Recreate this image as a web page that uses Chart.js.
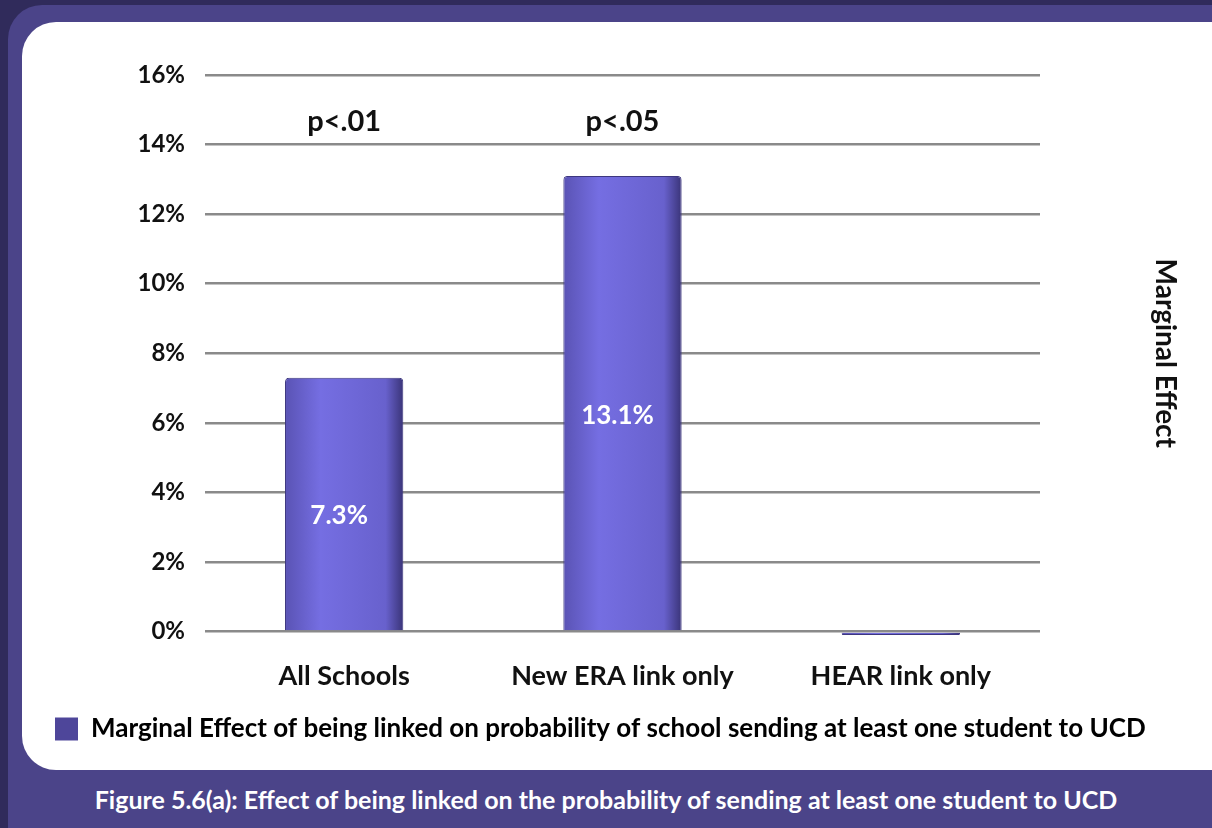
<!DOCTYPE html>
<html>
<head>
<meta charset="utf-8">
<script src="https://cdn.jsdelivr.net/npm/chart.js@4.4.1/dist/chart.umd.min.js"></script>
<style>
  html, body { margin: 0; padding: 0; }
  body { width: 1212px; height: 828px; background: #302b5b; position: relative; overflow: hidden; font-family: Lato, sans-serif; }
  #frame { position: absolute; left: 8px; top: 5px; width: 1260px; height: 860px; background: #4b4489; border-radius: 34px; }
  #panel { position: absolute; left: 22px; top: 22px; width: 1230px; height: 748px; background: #fff; border-radius: 34px; }
  #box { position: absolute; left: 22px; top: 22px; width: 1190px; height: 748px; }
  #caption { position: absolute; left: 0; width: 1212px; top: 784px; text-align: center; color: #fff; font: bold 25px Lato, sans-serif; }
</style>
</head>
<body>
<div id="frame"></div>
<div id="panel"></div>
<div id="box"><canvas id="barChart"></canvas></div>
<div id="caption">Figure 5.6(a): Effect of being linked on the probability of sending at least one student to UCD</div>
<script>
var categories = ['All Schools', 'New ERA link only', 'HEAR link only'];
var effects = [7.3, 13.1, -0.1];
var valueLabels = ['7.3%', '13.1%', ''];
var pLabels = ['p<.01', 'p<.05', ''];
var yTicks = [0, 2, 4, 6, 8, 10, 12, 14, 16];
var seriesName = 'Marginal Effect of being linked on probability of school sending at least one student to UCD';

var legendColour = '#4e469a';
var barPct = 0.425;

// white value labels inside the bars and the p-values above them
var barText = {
    id: 'barText',
    afterDatasetsDraw: function (chart) {
        var ctx = chart.ctx;
        var bars = chart.getDatasetMeta(0).data;
        var y = chart.scales.y;
        ctx.save();
        ctx.textAlign = 'center';
        ctx.textBaseline = 'middle';
        bars.forEach(function (bar, i) {
            if (valueLabels[i]) {
                ctx.fillStyle = '#ffffff';
                ctx.font = 'bold 26px Lato';
                ctx.fillText(valueLabels[i], bar.x - 5, (bar.y + bar.base) / 2 + 12);
            }
            if (pLabels[i]) {
                ctx.fillStyle = '#111111';
                ctx.font = 'bold 29px Lato';
                ctx.fillText(pLabels[i], bar.x, y.getPixelForValue(14.65));
            }
        });
        ctx.restore();
    }
};

new Chart(document.getElementById('barChart'), {
    type: 'bar',
    data: {
        labels: categories,
        datasets: [{
            label: seriesName,
            data: effects,
            backgroundColor: function (c) {
                var chart = c.chart, area = chart.chartArea;
                if (!area || c.type !== 'data') return '#6a63cc';
                var x = chart.scales.x.getPixelForValue(c.dataIndex);
                var half = (area.right - area.left) / categories.length * barPct / 2;
                var g = chart.ctx.createLinearGradient(x - half, 0, x + half, 0);
                g.addColorStop(0, '#5a53b4');
                g.addColorStop(0.3, '#756ee2');
                g.addColorStop(0.85, '#6861cd');
                g.addColorStop(1, '#3a3478');
                return g;
            },
            borderColor: '#3d377f',
            borderWidth: 1,
            borderRadius: 4,
            barPercentage: barPct,
            categoryPercentage: 1,
            clip: false
        }]
    },
    options: {
        responsive: true,
        maintainAspectRatio: false,
        animation: false,
        layout: { padding: { left: 29, right: 26, top: 53, bottom: 18 } },
        scales: {
            x: {
                grid: { display: false },
                border: { display: false },
                ticks: { color: '#111', font: { family: 'Lato', weight: 'bold', size: 27 }, padding: 20, maxRotation: 0 }
            },
            y: {
                min: 0,
                max: 16,
                afterFit: function (s) { s.width = 154; },
                afterBuildTicks: function (s) { s.ticks = yTicks.map(function (v) { return { value: v }; }); },
                grid: { color: '#8a8a8a', lineWidth: 2.5, drawTicks: false },
                border: { display: false },
                ticks: {
                    color: '#111',
                    padding: 20,
                    font: { family: 'Lato', weight: 'bold', size: 24 },
                    callback: function (v) { return v + '%'; }
                }
            },
            y2: {
                position: 'right',
                afterFit: function (s) { s.width = 146; },
                grid: { display: false },
                border: { display: false },
                ticks: { display: false },
                title: { display: true, text: 'Marginal Effect', color: '#111', font: { family: 'Lato', weight: 'bold', size: 28 } }
            }
        },
        plugins: {
            tooltip: { enabled: false },
            legend: {
                position: 'bottom',
                align: 'start',
                labels: {
                    boxWidth: 23,
                    boxHeight: 23,
                    padding: 4,
                    color: '#111',
                    font: { family: 'Lato', weight: 'bold', size: 26 },
                    generateLabels: function () {
                        return [{ text: seriesName, fillStyle: legendColour, strokeStyle: legendColour, lineWidth: 0, datasetIndex: 0 }];
                    }
                }
            }
        }
    },
    plugins: [barText]
});
</script>
</body>
</html>
